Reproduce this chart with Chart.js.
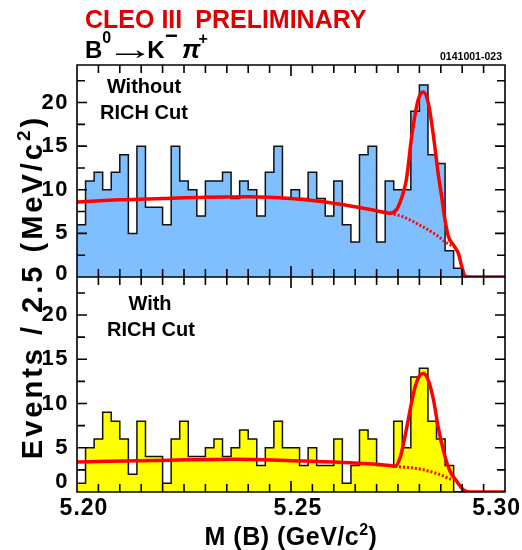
<!DOCTYPE html>
<html>
<head>
<meta charset="utf-8">
<script src="https://cdn.jsdelivr.net/npm/chart.js@4/dist/chart.umd.min.js"></script>
<style>
  html, body { margin: 0; padding: 0; background: #fff; }
  #caja { width: 522px; height: 550px; }
</style>
</head>
<body>
<div id="caja"><canvas id="chartMasaB" width="522" height="550"></canvas></div>
<script>
// histograma: bines de 2 MeV desde 5.200 GeV
const binInicio = 5.200;
const binAncho = 0.002;
const sinCorteRICH = [6, 11, 12, 10, 12, 14, 5, 15, 8, 8,
                      6, 15, 11, 10, 7, 11, 11, 12, 9, 11,
                      10, 7, 12, 15, 9, 10, 9, 12, 9, 7,
                      11, 6, 4, 14, 15, 4, 11, 10, 10, 19,
                      22, 14, 13, 3, 1, 0, 0, 0, 0, 0];
const conCorteRICH = [1, 5, 6, 9, 8, 6, 2, 8, 4, 4,
                      1, 6, 8, 4, 4, 5, 6, 4, 5, 7,
                      6, 3, 5, 8, 5, 5, 3, 5, 3, 3,
                      6, 1, 3, 7, 6, 3, 3, 8, 5, 13,
                      14, 8, 6, 3, 0, 0, 0, 0, 0, 0];

// ajuste total
const ajusteSinX = [5.200, 5.210, 5.220, 5.230, 5.240, 5.250, 5.258, 5.265, 5.270, 5.2731, 5.2747, 5.2755, 5.2762,
                    5.2770, 5.2782, 5.2797, 5.2809, 5.2821, 5.2833, 5.2844, 5.2852, 5.2860, 5.2868, 5.2879,
                    5.2891, 5.2899, 5.2907, 5.2920, 5.3000];
const ajusteSinY = [8.6, 8.85, 9.0, 9.15, 9.2, 9.0, 8.6, 8.05, 7.6, 7.3, 7.75, 8.6, 9.6,
                    11.3, 16.1, 20.3, 21.2, 19.9, 16.1, 11.8, 9.2, 6.5, 4.6, 3.7,
                    2.7, 1.2, 0.1, 0, 0];
// fondo (punteado)
const fondoSinX = [5.2731, 5.2762, 5.2801, 5.2840, 5.2864, 5.2875];
const fondoSinY = [7.3, 6.9, 5.95, 4.8, 3.9, 3.6];

const ajusteConX = [5.200, 5.2217, 5.2373, 5.2529, 5.2640, 5.2731, 5.2743, 5.2755, 5.2766, 5.2778, 5.2790, 5.2801,
                    5.2809, 5.2821, 5.2833, 5.2844, 5.2856, 5.2871, 5.2886, 5.2905, 5.2920, 5.3000];
const ajusteConY = [3.4, 3.6, 3.7, 3.5, 3.3, 3.0, 2.9, 3.9, 6.2, 9.2, 11.9, 13.2,
                    13.4, 12.6, 10.4, 7.3, 4.7, 2.4, 1.3, 0.17, 0, 0];
const fondoConX = [5.2743, 5.2801, 5.2840, 5.2875];
const fondoConY = [2.9, 2.6, 2.1, 1.4];

const etiquetasX = ['5.20', '5.25', '5.30'];
const etiquetasY = ['0', '5', '10', '15', '20'];

const fuente = (t, estilo) => (estilo || 'bold') + ' ' + t + 'px "Liberation Sans", Arial, sans-serif';

function pasos(valores) {
    const pts = valores.map((v, i) => ({ x: binInicio + i * binAncho, y: v }));
    pts.push({ x: binInicio + valores.length * binAncho, y: valores[valores.length - 1] });
    return pts;
}
function puntos(xs, ys) {
    return xs.map((x, i) => ({ x: x, y: ys[i] }));
}

// texto con partes (superindices, estiramiento horizontal sx)
function textoRico(c, partes, x, y, alinear, espacio) {
    c.letterSpacing = (espacio || 0) + 'px';
    let total = 0;
    partes.forEach(p => { c.font = p.font; total += c.measureText(p.t).width * (p.sx || 1) + (p.sep || 0); });
    let px = alinear === 'center' ? x - total / 2 : x;
    c.textAlign = 'left';
    c.textBaseline = 'alphabetic';
    partes.forEach(p => {
        c.font = p.font;
        c.fillStyle = p.color || '#000';
        const w = c.measureText(p.t).width * (p.sx || 1);
        c.save();
        c.translate(px, y + (p.dy || 0));
        c.scale(p.sx || 1, 1);
        c.fillText(p.t, 0, 0);
        c.restore();
        px += w + (p.sep || 0);
    });
    c.letterSpacing = '0px';
}

const marco = {
    id: 'marco',
    afterDatasetsDraw(chart) {
        const c = chart.ctx;
        const ax = chart.scales.x;
        const area = chart.chartArea;
        const paneles = [chart.scales.yTop, chart.scales.yBot];
        c.save();
        c.strokeStyle = '#000';
        c.lineWidth = 1.6;
        c.beginPath();
        paneles.forEach(p => {
            c.rect(area.left, p.top, area.right - area.left, p.bottom - p.top);
            // marcas en x, cada 5 MeV
            for (let k = 0; k <= 20; k++) {
                const xv = ax.getPixelForValue(5.20 + k * 0.005);
                const largo = k % 10 === 0 ? 11 : 8;
                c.moveTo(xv, p.bottom); c.lineTo(xv, p.bottom - largo);
                c.moveTo(xv, p.top); c.lineTo(xv, p.top + largo);
            }
            // marcas en y, cada 2.5
            for (let k = 1; k * 2.5 < p.max; k++) {
                const yv = p.getPixelForValue(k * 2.5);
                const largo = k % 2 === 0 ? 10 : 8;
                c.moveTo(area.left, yv); c.lineTo(area.left + largo, yv);
                c.moveTo(area.right, yv); c.lineTo(area.right - largo, yv);
            }
        });
        c.stroke();

        // etiquetas del eje y
        c.fillStyle = '#000';
        c.font = fuente(22);
        c.letterSpacing = '1.5px';
        c.textAlign = 'right';
        c.textBaseline = 'middle';
        paneles.forEach((p, n) => {
            etiquetasY.forEach(t => {
                let yv = p.getPixelForValue(parseFloat(t));
                if (t === '0') yv -= (n === 0 ? 3 : 10);
                c.fillText(t, 69, yv);
            });
        });

        // etiquetas del eje x
        c.font = fuente(23);
        c.letterSpacing = '1px';
        c.textBaseline = 'alphabetic';
        c.textAlign = 'left';
        etiquetasX.forEach(t => {
            const w = c.measureText(t).width;
            let x0 = ax.getPixelForValue(parseFloat(t)) + 7 - w / 2;
            if (x0 + w > 521) x0 = 521 - w;
            c.fillText(t, x0, 515);
        });
        c.letterSpacing = '0px';

        // titulo eje x
        textoRico(c, [
            { t: 'M (B) (GeV/c', font: fuente(25) },
            { t: '2', font: fuente(16), dy: -10 },
            { t: ')', font: fuente(25) }
        ], 291, 545, 'center', 0.5);

        // titulo eje y
        c.save();
        c.translate(42, 287);
        c.rotate(-Math.PI / 2);
        textoRico(c, [
            { t: 'Events / 2.5 (MeV/c', font: fuente(29) },
            { t: '2', font: fuente(19), dy: -12 },
            { t: ')', font: fuente(29) }
        ], 0, 0, 'center', 3);
        c.restore();

        // textos de los paneles
        c.font = fuente(20);
        c.textAlign = 'center';
        c.fillStyle = '#000';
        c.fillText('Without', 144, 93);
        c.fillText('RICH Cut', 144, 119);
        c.fillText('With', 150, 310);
        c.fillText('RICH Cut', 151, 336);

        // encabezado
        textoRico(c, [
            { t: 'CLEO III', font: fuente(25), color: '#dd0000', sep: 13 },
            { t: 'PRELIMINARY', font: fuente(25), color: '#dd0000' }
        ], 85, 28, 'left');
        textoRico(c, [
            { t: 'B', font: fuente(24) },
            { t: '0', font: fuente(16), dy: -15, sep: -5 },
            { t: '\u2192', font: fuente(30), sx: 1.6, dy: 1, sep: -7 },
            { t: 'K', font: fuente(24), sep: 0.5 },
            { t: '\u2212', font: fuente(22), dy: -15, sep: 4 },
            { t: '\u03C0', font: fuente(26, 'italic bold'), sep: -2 },
            { t: '+', font: fuente(16), dy: -14 }
        ], 85, 58, 'left');
        c.font = 'bold 11px "Liberation Sans", Arial, sans-serif';
        c.textAlign = 'left';
        c.fillText('0141001-023', 440, 60, 62);
        c.restore();
    }
};

document.addEventListener('DOMContentLoaded', function () {
    const ctx = document.getElementById('chartMasaB').getContext('2d');
    new Chart(ctx, {
        type: 'line',
        data: {
            datasets: [
                { data: puntos(ajusteSinX, ajusteSinY), yAxisID: 'yTop', borderColor: '#ff0000', borderWidth: 3.5,
                  cubicInterpolationMode: 'monotone', fill: false },
                { data: puntos(fondoSinX, fondoSinY), yAxisID: 'yTop', borderColor: '#ff0000', borderWidth: 3,
                  borderDash: [2, 2], cubicInterpolationMode: 'monotone', fill: false },
                { data: puntos(ajusteConX, ajusteConY), yAxisID: 'yBot', borderColor: '#ff0000', borderWidth: 3.5,
                  cubicInterpolationMode: 'monotone', fill: false },
                { data: puntos(fondoConX, fondoConY), yAxisID: 'yBot', borderColor: '#ff0000', borderWidth: 3,
                  borderDash: [2, 2], cubicInterpolationMode: 'monotone', fill: false },
                { data: pasos(sinCorteRICH), yAxisID: 'yTop', stepped: true, borderColor: '#111',
                  borderWidth: 1.5, backgroundColor: 'rgb(128,191,255)', fill: 'origin' },
                { data: pasos(conCorteRICH), yAxisID: 'yBot', stepped: true, borderColor: '#111',
                  borderWidth: 1.5, backgroundColor: 'rgb(255,255,0)', fill: 'origin' }
            ]
        },
        options: {
            responsive: false,
            animation: false,
            layout: { padding: { left: 77, right: 17, top: 65, bottom: 58 } },
            elements: { point: { radius: 0 } },
            plugins: { legend: { display: false }, tooltip: { enabled: false } },
            scales: {
                x: { type: 'linear', min: 5.20, max: 5.30, display: false },
                yTop: { type: 'linear', min: 0, max: 24.3, position: 'left', stack: 'paneles',
                        stackWeight: 212, weight: 2, display: false },
                yBot: { type: 'linear', min: 0, max: 24.3, position: 'left', stack: 'paneles',
                        stackWeight: 215, weight: 1, display: false }
            }
        },
        plugins: [marco]
    });
});
</script>
</body>
</html>
